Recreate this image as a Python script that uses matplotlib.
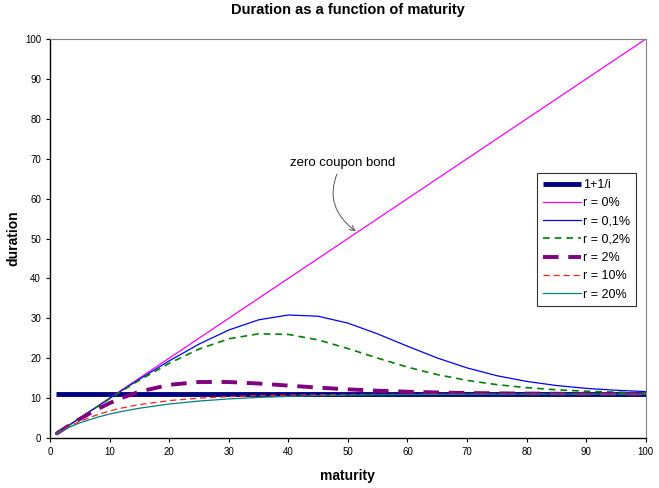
import matplotlib
matplotlib.use("Agg")
import matplotlib.pyplot as plt

plt.rcParams['font.family'] = ['Liberation Sans', 'DejaVu Sans']

# maturities (years) and durations
maturity = [1, 2, 3, 5, 8, 10, 12, 15, 20, 25, 30, 35, 40, 45, 50,
            55, 60, 65, 70, 75, 80, 85, 90, 95, 100]
bound_level = 11.0  # 1 + 1/i with i = 10%
zero_coupon = maturity  # r = 0%: duration equals maturity
r_01 = [1.0, 2.0, 3.0, 4.99, 7.95, 9.92, 11.86, 14.73, 19.32, 23.52, 27.06, 29.61,
        30.83, 30.52, 28.79, 26.08, 23.0, 20.05, 17.56, 15.61, 14.18, 13.15,
        12.44, 11.96, 11.63]
r_02 = [1.0, 2.0, 2.99, 4.97, 7.91, 9.84, 11.73, 14.48, 18.72, 22.28, 24.85, 26.11,
        25.96, 24.58, 22.42, 20.01, 17.76, 15.89, 14.43, 13.37, 12.61, 12.08,
        11.72, 11.48, 11.31]
r_2 = [1.0, 1.98, 2.93, 4.76, 7.26, 8.73, 10.02, 11.61, 13.33, 14.03, 14.03, 13.65,
       13.13, 12.63, 12.19, 11.85, 11.60, 11.41, 11.28, 11.19, 11.13, 11.09,
       11.06, 11.04, 11.02]
r_10 = [1.0, 1.91, 2.74, 4.17, 5.87, 6.76, 7.50, 8.37, 9.37, 9.98, 10.37, 10.61,
        10.76, 10.85, 10.91, 10.94, 10.96, 10.98, 10.99, 10.99, 11.0, 11.0,
        11.0, 11.0, 11.0]
r_20 = [1.0, 1.85, 2.58, 3.80, 5.22, 5.99, 6.64, 7.46, 8.51, 9.26, 9.79, 10.17,
        10.43, 10.61, 10.74, 10.83, 10.88, 10.92, 10.95, 10.97, 10.98, 10.99,
        10.99, 11.0, 11.0]

fig = plt.figure(figsize=(6.59, 4.88), dpi=100)
ax = fig.add_axes([0.0759, 0.1025, 0.9041, 0.8175])

ax.plot([maturity[0], maturity[-1]], [bound_level, bound_level], color='#000080',
        lw=3.5, solid_capstyle='butt', label='1+1/i')
ax.plot(maturity, zero_coupon, color='#FF00FF', lw=0.9, label='r = 0%')
ax.plot(maturity, r_01, color='#0000FF', lw=0.9, label='r = 0,1%')
ax.plot(maturity, r_02, color='#008000', lw=1.2, ls=(0, (4, 3)), label='r = 0,2%')
ax.plot(maturity, r_2, color='#800080', lw=2.8, ls=(0, (4, 2.5)), label='r = 2%')
ax.plot(maturity, r_10, color='#FF2020', lw=0.9, ls=(0, (5, 3)), label='r = 10%')
ax.plot(maturity, r_20, color='#008080', lw=0.9, label='r = 20%')

ax.set_xlim(0, 100)
ax.set_ylim(0, 100)
ax.set_xticks(range(0, 101, 10))
ax.set_yticks(range(0, 101, 10))
ax.tick_params(labelsize=7, length=3, width=0.8, direction='out')
for s in ['top', 'right']:
    ax.spines[s].set_color('#808080')
for s in ['left', 'bottom']:
    ax.spines[s].set_linewidth(1.0)

ax.set_xlabel('maturity', fontsize=10, fontweight='bold')
ax.set_ylabel('duration', fontsize=10, fontweight='bold')
ax.xaxis.set_label_coords(0.5, -0.078)
ax.yaxis.set_label_coords(-0.05, 0.5)
ax.set_title('Duration as a function of maturity', fontsize=10.5,
             fontweight='bold', pad=18)

ax.annotate('zero coupon bond', xy=(51.3, 51.8), xytext=(40.3, 67.5),
            fontsize=9.5, ha='left', va='bottom',
            arrowprops=dict(arrowstyle='->', color='#555555', lw=0.7,
                            connectionstyle='arc3,rad=0.45',
                            shrinkA=2, shrinkB=0))

leg = ax.legend(loc='upper left', bbox_to_anchor=(0.818, 0.663), fontsize=9,
                frameon=True, fancybox=False, edgecolor='black',
                handlelength=3.0, handletextpad=0.2, borderpad=0.45,
                labelspacing=0.5, borderaxespad=0)
leg.get_frame().set_linewidth(0.8)

fig.savefig('out.png', dpi=100)
